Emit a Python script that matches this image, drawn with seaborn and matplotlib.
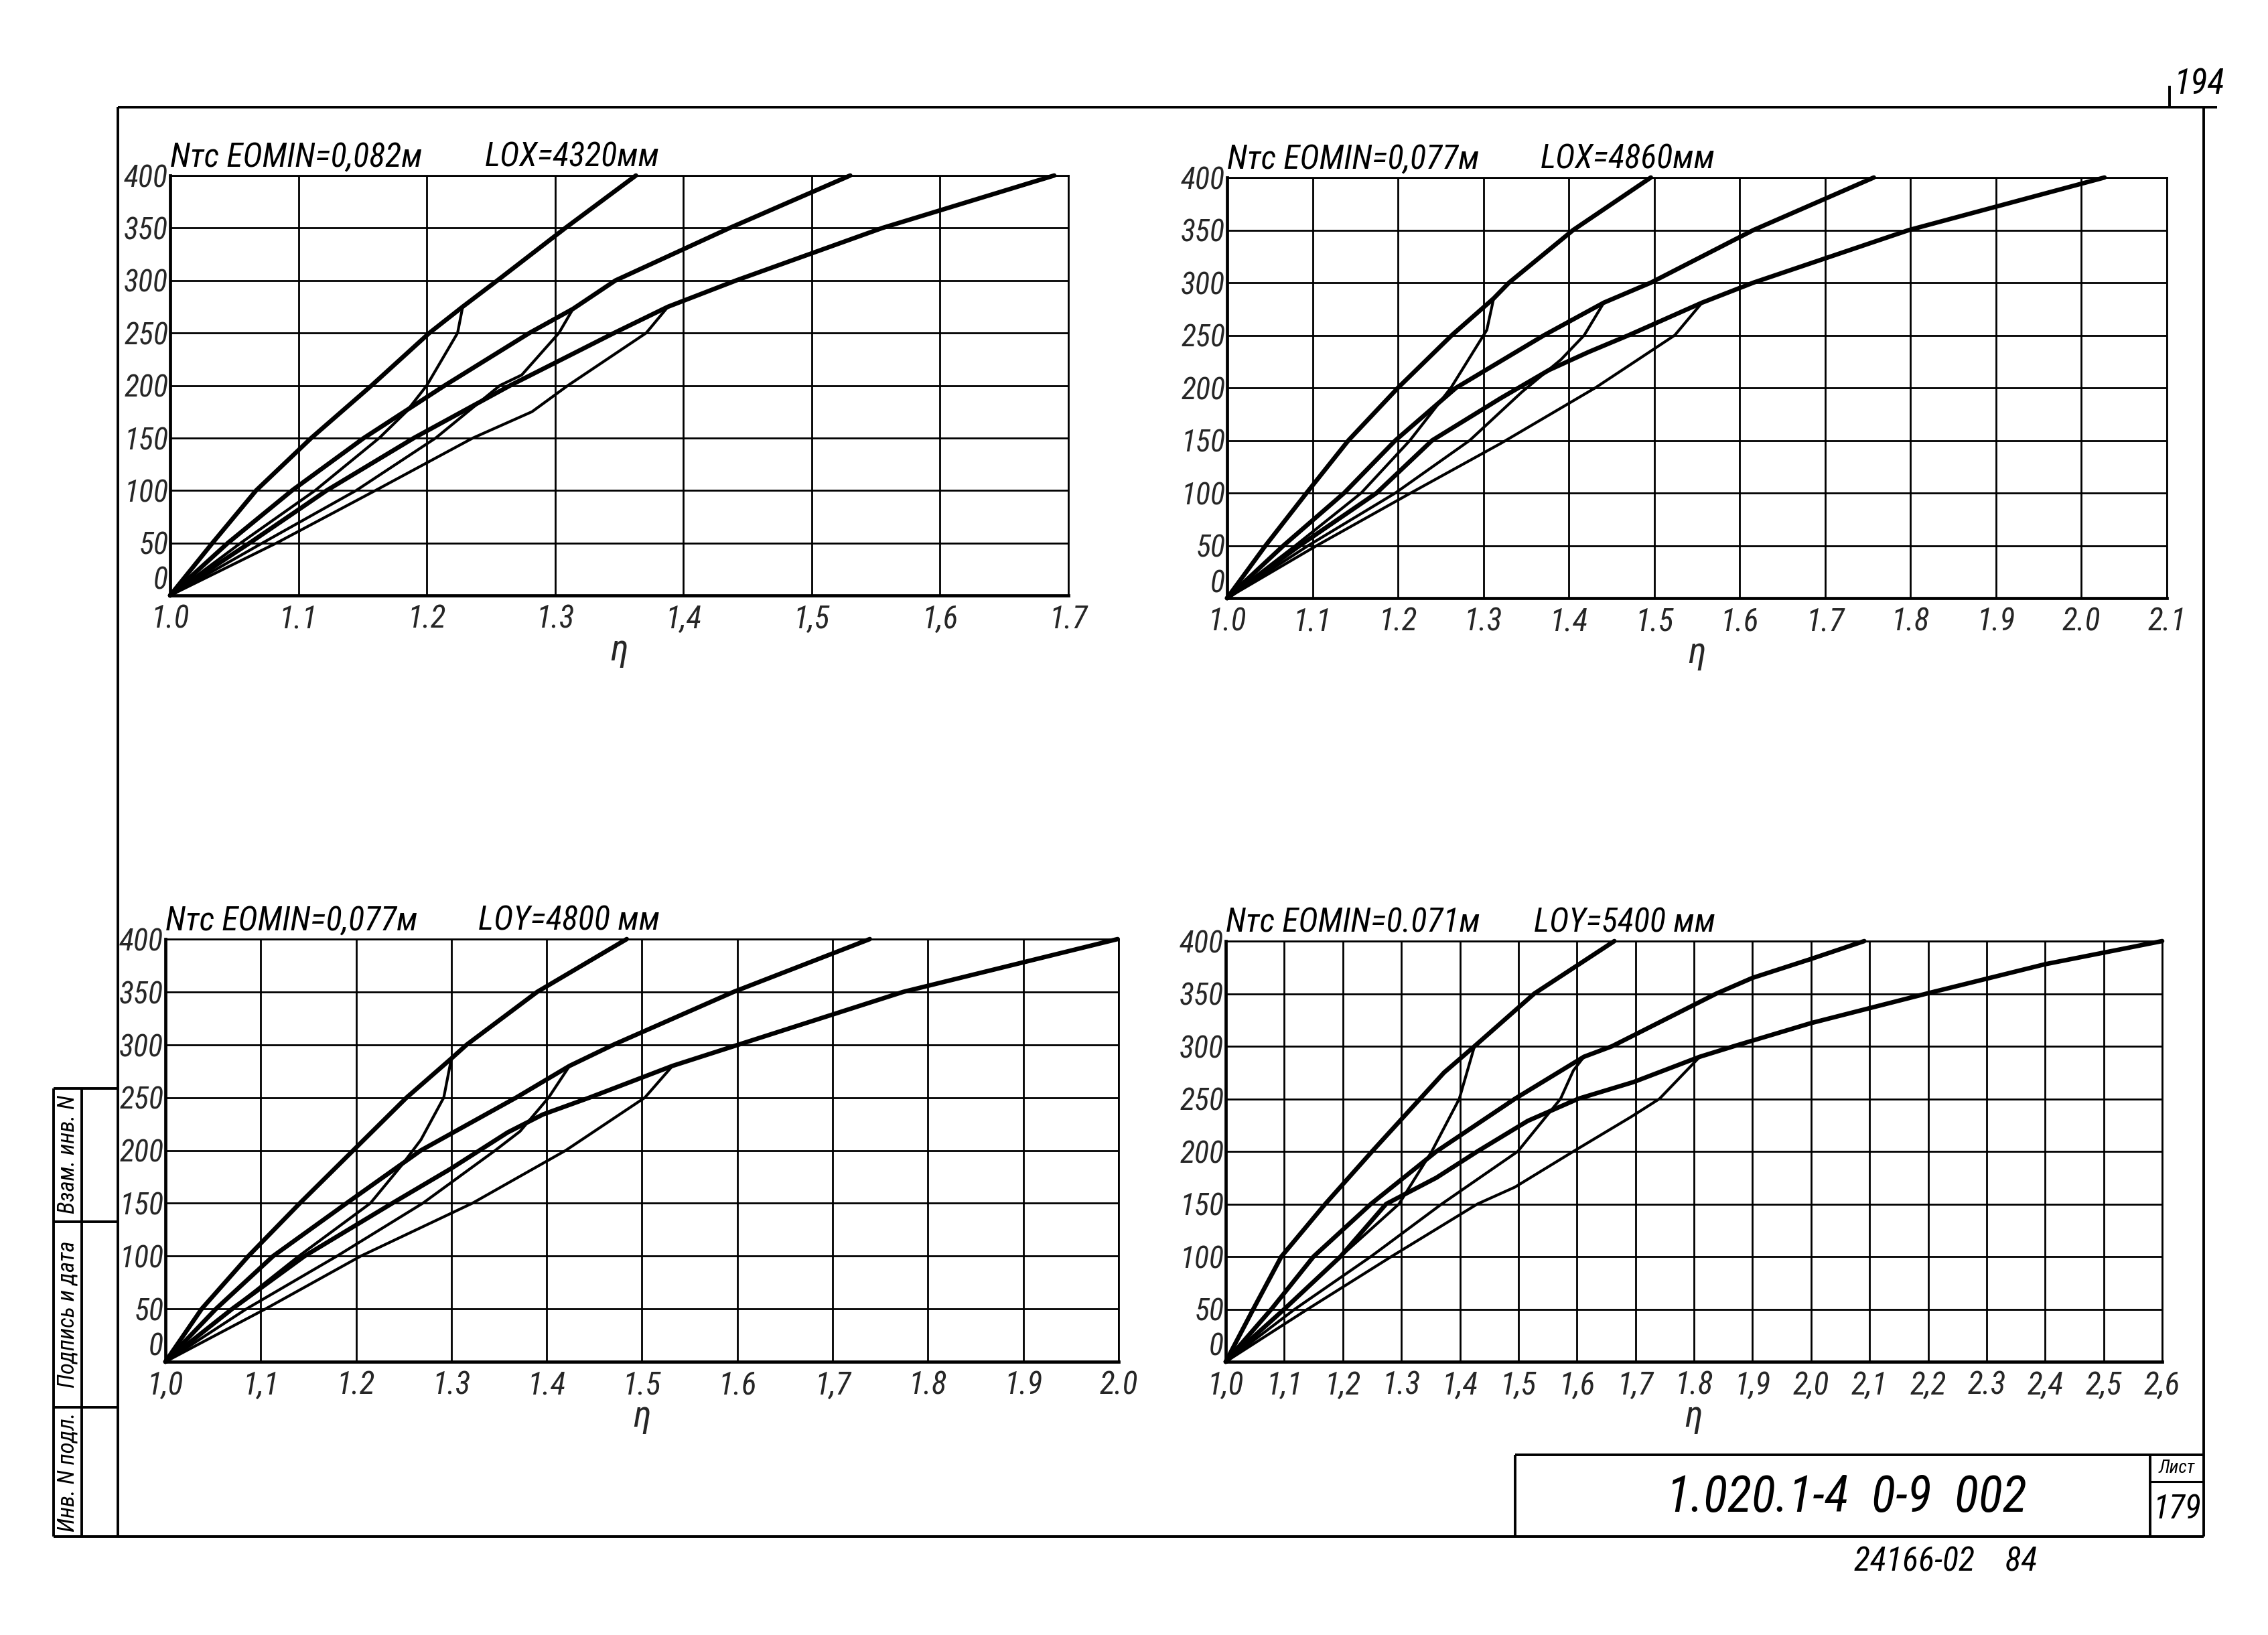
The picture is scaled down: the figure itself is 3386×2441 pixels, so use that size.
import numpy as np
import seaborn as sns
import matplotlib.pyplot as plt
import matplotlib.font_manager as fm
from matplotlib.ticker import MultipleLocator

# sheet size in pixels
W, H = 3386, 2441

# ---- data: (eta, N) points ----
# U = thick upper branch (origin -> kink -> 400), L = thin lower branch (origin -> kink)

# panel 1: LOX = 4320 mm
P1_U1 = [(1.0, 0), (1.033, 50), (1.067, 100), (1.110, 150), (1.157, 200), (1.202, 250),
         (1.228, 275), (1.255, 300), (1.308, 350), (1.363, 400)]
P1_L1 = [(1.0, 0), (1.055, 50), (1.113, 100), (1.163, 150), (1.184, 175), (1.200, 200),
         (1.224, 250), (1.228, 275)]
P1_U2 = [(1.0, 0), (1.045, 50), (1.095, 100), (1.151, 150), (1.214, 200), (1.280, 250),
         (1.314, 273), (1.347, 300), (1.436, 350), (1.530, 400)]
P1_L2 = [(1.0, 0), (1.072, 50), (1.145, 100), (1.207, 150), (1.257, 200), (1.274, 210),
         (1.303, 250), (1.314, 273)]
P1_U3 = [(1.0, 0), (1.062, 50), (1.122, 100), (1.190, 150), (1.265, 200), (1.346, 250),
         (1.388, 275), (1.441, 300), (1.555, 350), (1.689, 400)]
P1_L3 = [(1.0, 0), (1.083, 50), (1.160, 100), (1.236, 150), (1.282, 175), (1.310, 200),
         (1.371, 250), (1.388, 275)]

# panel 2: LOX = 4860 mm
P2_U1 = [(1.0, 0), (1.045, 50), (1.093, 100), (1.142, 150), (1.200, 200), (1.263, 250),
         (1.312, 285), (1.330, 300), (1.405, 350), (1.496, 400)]
P2_L1 = [(1.0, 0), (1.080, 50), (1.157, 100), (1.214, 150), (1.262, 200), (1.304, 255),
         (1.312, 285)]
P2_U2 = [(1.0, 0), (1.066, 50), (1.137, 100), (1.197, 150), (1.268, 200), (1.371, 250),
         (1.441, 281), (1.496, 300), (1.616, 350), (1.757, 400)]
P2_L2 = [(1.0, 0), (1.095, 50), (1.197, 100), (1.284, 150), (1.345, 196), (1.391, 227),
         (1.418, 250), (1.441, 281)]
P2_U3 = [(1.0, 0), (1.085, 50), (1.175, 100), (1.240, 150), (1.320, 190), (1.377, 217),
         (1.423, 234), (1.470, 250), (1.556, 281), (1.616, 300), (1.798, 350), (2.027, 400)]
P2_L3 = [(1.0, 0), (1.105, 50), (1.215, 100), (1.320, 147), (1.431, 200), (1.524, 250),
         (1.556, 281)]

# panel 3: LOY = 4800 mm
P3_U1 = [(1.0, 0), (1.038, 50), (1.087, 100), (1.141, 150), (1.197, 200), (1.253, 250),
         (1.300, 287), (1.316, 300), (1.390, 350), (1.484, 400)]
P3_L1 = [(1.0, 0), (1.070, 50), (1.140, 100), (1.215, 150), (1.247, 185), (1.268, 210),
         (1.292, 250), (1.300, 287)]
P3_U2 = [(1.0, 0), (1.053, 50), (1.113, 100), (1.190, 150), (1.268, 200), (1.368, 250),
         (1.424, 280), (1.470, 300), (1.596, 350), (1.739, 400)]
P3_L2 = [(1.0, 0), (1.085, 50), (1.180, 100), (1.270, 150), (1.346, 200), (1.372, 218),
         (1.402, 250), (1.424, 280)]
P3_U3 = [(1.0, 0), (1.070, 50), (1.146, 100), (1.238, 150), (1.300, 183), (1.359, 217),
         (1.396, 234), (1.445, 250), (1.532, 280), (1.601, 300), (1.774, 350), (1.999, 400)]
P3_L3 = [(1.0, 0), (1.105, 50), (1.205, 100), (1.322, 150), (1.420, 200), (1.503, 250),
         (1.532, 280)]

# panel 4: LOY = 5400 mm
P4_U1 = [(1.0, 0), (1.047, 50), (1.095, 100), (1.170, 150), (1.250, 200), (1.332, 250),
         (1.373, 275), (1.425, 300), (1.527, 350), (1.664, 400)]
P4_L1 = [(1.0, 0), (1.100, 50), (1.196, 100), (1.296, 150), (1.352, 200), (1.399, 250),
         (1.425, 300)]
P4_U2 = [(1.0, 0), (1.078, 50), (1.150, 100), (1.248, 150), (1.360, 200), (1.494, 250),
         (1.612, 290), (1.660, 300), (1.838, 350), (1.900, 365), (2.000, 383), (2.091, 400)]
P4_L2 = [(1.0, 0), (1.118, 50), (1.248, 100), (1.369, 150), (1.499, 200), (1.572, 250),
         (1.594, 277), (1.612, 290)]
P4_U3 = [(1.0, 0), (1.100, 50), (1.196, 100), (1.274, 150), (1.360, 175), (1.430, 200),
         (1.516, 229), (1.602, 250), (1.697, 266), (1.810, 290), (1.868, 300), (2.000, 322),
         (2.197, 350), (2.400, 378), (2.600, 400)]
P4_L3 = [(1.0, 0), (1.140, 50), (1.283, 100), (1.430, 150), (1.494, 166), (1.594, 200),
         (1.693, 233), (1.741, 250), (1.810, 290)]

# tick labels as written on the sheet
Y_LABELS = ["0", "50", "100", "150", "200", "250", "300", "350", "400"]
P1_XLABELS = ["1.0", "1.1", "1.2", "1.3", "1,4", "1,5", "1,6", "1.7"]
P2_XLABELS = ["1.0", "1.1", "1.2", "1.3", "1.4", "1.5", "1.6", "1.7", "1.8", "1.9", "2.0", "2.1"]
P3_XLABELS = ["1,0", "1,1", "1.2", "1.3", "1.4", "1.5", "1.6", "1,7", "1.8", "1.9", "2.0"]
P4_XLABELS = ["1,0", "1,1", "1,2", "1.3", "1,4", "1,5", "1,6", "1,7", "1.8", "1,9", "2,0",
              "2,1", "2,2", "2.3", "2,4", "2,5", "2,6"]

P1_TITLE = ("Nтс EOMIN=0,082м", "LOX=4320мм")
P2_TITLE = ("Nтс EOMIN=0,077м", "LOX=4860мм")
P3_TITLE = ("Nтс EOMIN=0,077м", "LOY=4800 мм")
P4_TITLE = ("Nтс EOMIN=0.071м", "LOY=5400 мм")

# ---- style ----
sns.set_style("white")
names = {f.name for f in fm.fontManager.ttflist}
HAND = "DejaVu Sans"
for cand in ("Liberation Sans Narrow", "Roboto Condensed", "Open Sans Condensed",
             "DejaVu Sans Condensed"):
    if cand in names:
        HAND = cand
        break
plt.rcParams["font.family"] = [HAND, "DejaVu Sans"]
plt.rcParams["font.style"] = "italic"
plt.rcParams["font.stretch"] = "condensed"
plt.rcParams["text.color"] = "black"

fig = plt.figure(figsize=(W / 100, H / 100), dpi=100)
fig.patch.set_facecolor("white")

# ---- sheet frame ----
page = fig.add_axes([0, 0, 1, 1], zorder=0)
page.set_xlim(0, W)
page.set_ylim(H, 0)
page.axis("off")


def seg(x0, y0, x1, y1, lw=2.8):
    page.plot([x0, x1], [y0, y1], color="black", lw=lw, solid_capstyle="butt")


seg(176, 160, 3310, 160)
seg(176, 160, 176, 2294)
seg(3290, 160, 3290, 2294)
seg(80, 2294, 3290, 2294)
seg(3239, 128, 3239, 160)
# left strip
seg(80, 1625, 80, 2294)
seg(122, 1625, 122, 2294)
for yy in (1625, 1824, 2101):
    seg(80, yy, 176, yy)
# title block
seg(2262, 2172, 2262, 2294)
seg(2262, 2172, 3290, 2172)
seg(3210, 2172, 3210, 2294)
seg(3210, 2212, 3290, 2212, lw=2.2)

page.text(3246, 140, "194", ha="left", va="baseline", fontsize=38)
page.text(2757, 2236, "1.020.1-4  0-9  002", ha="center", va="center", fontsize=54)
page.text(3250, 2192, "Лист", ha="center", va="center", fontsize=20)
page.text(3250, 2253, "179", ha="center", va="center", fontsize=36)
page.text(2905, 2332, "24166-02    84", ha="center", va="center", fontsize=36)
page.text(101, 1724, "Взам. инв. N", rotation=90, ha="center", va="center", fontsize=25)
page.text(101, 1962, "Подпись и дата", rotation=90, ha="center", va="center", fontsize=25)
page.text(101, 2198, "Инв. N подл.", rotation=90, ha="center", va="center", fontsize=25)


def px_axes(x0, x1, y_top, y_bot):
    return fig.add_axes([x0 / W, 1 - y_bot / H, (x1 - x0) / W, (y_bot - y_top) / H], zorder=1)


def draw_panel(ax, curves, xlabels, title, title_x):
    xmax = 1.0 + 0.1 * (len(xlabels) - 1)
    for pts, thick in curves:
        arr = np.array(pts)
        sns.lineplot(x=arr[:, 0], y=arr[:, 1], sort=False, estimator=None, ax=ax,
                     color="black", lw=4.8 if thick else 3.0, zorder=4 if thick else 3,
                     clip_on=False)
    ax.set_xlim(1.0, xmax)
    ax.set_ylim(0, 400)
    ax.set_xticks(np.round(np.arange(len(xlabels)) * 0.1 + 1.0, 1))
    ax.set_xticklabels(xlabels)
    ax.set_yticks(np.arange(0, 401, 50))
    ax.set_yticklabels(Y_LABELS)
    # lift the "0" of the N scale so it clears the first eta label
    ax.get_yticklabels()[0].set_verticalalignment("bottom")
    ax.xaxis.set_minor_locator(MultipleLocator(0.05))
    ax.yaxis.set_minor_locator(MultipleLocator(25))
    ax.grid(True, which="major", color="black", lw=2.0)
    ax.set_axisbelow(True)
    ax.set_facecolor("none")
    for side in ("left", "bottom"):
        ax.spines[side].set_linewidth(3.4)
    for side in ("top", "right"):
        ax.spines[side].set_linewidth(2.0)
    for sp in ax.spines.values():
        sp.set_color("black")
    ax.tick_params(axis="both", which="both", direction="out", length=10, width=2.0,
                   color="black")
    ax.tick_params(axis="x", which="major", pad=-1, labelsize=34)
    ax.tick_params(axis="y", which="major", pad=-8, labelsize=33)
    ax.set_xlabel("η", fontsize=40, labelpad=-2)
    ax.set_ylabel("")
    ax.text(1.0, 402, title[0], ha="left", va="bottom", fontsize=36)
    ax.text(title_x, 402, title[1], ha="left", va="bottom", fontsize=36)


ax1 = px_axes(254, 1595, 262, 889)
draw_panel(ax1, [(P1_L1, False), (P1_L2, False), (P1_L3, False),
                 (P1_U1, True), (P1_U2, True), (P1_U3, True)], P1_XLABELS, P1_TITLE, 1.245)

ax2 = px_axes(1832, 3235, 265, 893)
draw_panel(ax2, [(P2_L1, False), (P2_L2, False), (P2_L3, False),
                 (P2_U1, True), (P2_U2, True), (P2_U3, True)], P2_XLABELS, P2_TITLE, 1.367)

ax3 = px_axes(247, 1670, 1402, 2033)
draw_panel(ax3, [(P3_L1, False), (P3_L2, False), (P3_L3, False),
                 (P3_U1, True), (P3_U2, True), (P3_U3, True)], P3_XLABELS, P3_TITLE, 1.328)

ax4 = px_axes(1830, 3228, 1405, 2033)
draw_panel(ax4, [(P4_L1, False), (P4_L2, False), (P4_L3, False),
                 (P4_U1, True), (P4_U2, True), (P4_U3, True)], P4_XLABELS, P4_TITLE, 1.527)

fig.savefig("out.png", dpi=100, facecolor="white")
